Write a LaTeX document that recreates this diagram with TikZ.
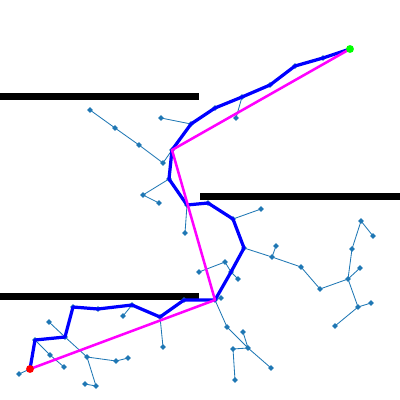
\documentclass[tikz,border=0pt]{standalone}
\usetikzlibrary{shapes.geometric}
\definecolor{treeblue}{HTML}{1F77B4}
\definecolor{shortpink}{HTML}{FF00FF}
\definecolor{goalgreen}{HTML}{00FF00}
\definecolor{startred}{HTML}{FF0000}
\begin{document}
\begin{tikzpicture}[x=0.025cm,y=-0.025cm,
  vtx/.style={diamond,fill=treeblue,inner sep=0pt,minimum size=4.2pt},
  edge/.style={treeblue,line width=0.6pt},
  route/.style={blue,line width=2.3pt,line join=round},
  short/.style={shortpink,line width=1.8pt,line join=round},
  endpt/.style={circle,inner sep=0pt,minimum size=5.6pt},
  wall/.style={fill=black}]
\useasboundingbox (0,0) rectangle (400,400);

\fill[wall] (0,93) rectangle (199,100);
\fill[wall] (200,193) rectangle (400,200);
\fill[wall] (0,293) rectangle (199,300);

% nodes of the found route
\coordinate (p0) at (30,369);
\node[vtx] (p1) at (35,340) {};
\node[vtx] (p2) at (65,337) {};
\node[vtx] (p3) at (73,307) {};
\node[vtx] (p4) at (98,309) {};
\node[vtx] (p5) at (132,305) {};
\node[vtx] (p6) at (160,317) {};
\node[vtx] (p7) at (184,300) {};
\node[vtx] (p8) at (215,300) {};
\node[vtx] (p9) at (231,272) {};
\node[vtx] (p10) at (244,248) {};
\node[vtx] (p11) at (233,219) {};
\node[vtx] (p12) at (208,203) {};
\node[vtx] (p13) at (187,205) {};
\node[vtx] (p14) at (169,179) {};
\node[vtx] (p15) at (172,150) {};
\node[vtx] (p16) at (191,124) {};
\node[vtx] (p17) at (215,108) {};
\node[vtx] (p18) at (242,97) {};
\node[vtx] (p19) at (270,85) {};
\node[vtx] (p20) at (295,66) {};
\node[vtx] (p21) at (323,58) {};
\coordinate (p22) at (350,49);

% other tree nodes
\node[vtx] (a1) at (90,110) {};
\node[vtx] (a2) at (115,128) {};
\node[vtx] (a3) at (139,145) {};
\node[vtx] (a4) at (163,163) {};
\node[vtx] (b1) at (161,118) {};
\node[vtx] (c1) at (143,195) {};
\node[vtx] (c2) at (159,203) {};
\node[vtx] (d1) at (185,233) {};
\node[vtx] (e1) at (236,118) {};
\node[vtx] (f1) at (261,209) {};
\node[vtx] (g1) at (272,257) {};
\node[vtx] (g2) at (276,246) {};
\node[vtx] (g3) at (301,267) {};
\node[vtx] (g4) at (320,289) {};
\node[vtx] (g5) at (348,279) {};
\node[vtx] (g6) at (360,268) {};
\node[vtx] (g7) at (352,249) {};
\node[vtx] (g8) at (361,221) {};
\node[vtx] (g9) at (373,236) {};
\node[vtx] (g10) at (358,307) {};
\node[vtx] (g11) at (371,303) {};
\node[vtx] (g12) at (335,326) {};
\node[vtx] (h1) at (225,262) {};
\node[vtx] (h2) at (199,272) {};
\node[vtx] (h3) at (238,279) {};
\node[vtx] (k1) at (221,298) {};
\node[vtx] (m1) at (227,327) {};
\node[vtx] (m2) at (248,348) {};
\node[vtx] (m3) at (243,332) {};
\node[vtx] (m4) at (233,349) {};
\node[vtx] (m5) at (235,380) {};
\node[vtx] (m6) at (271,368) {};
\node[vtx] (q1) at (19,374) {};
\node[vtx] (r1) at (50,355) {};
\node[vtx] (r2) at (64,367) {};
\node[vtx] (u1) at (49,322) {};
\node[vtx] (u2) at (87,357) {};
\node[vtx] (u3) at (116,361) {};
\node[vtx] (u4) at (128,358) {};
\node[vtx] (u5) at (96,386) {};
\node[vtx] (u6) at (85,384) {};
\node[vtx] (v1) at (123,316) {};
\node[vtx] (w1) at (163,347) {};

% tree edges
\draw[edge] (a1.center) -- (a2.center) -- (a3.center) -- (a4.center) -- (p15.center);
\draw[edge] (b1.center) -- (p16.center);
\draw[edge] (c2.center) -- (c1.center) -- (p14.center);
\draw[edge] (d1.center) -- (p13.center);
\draw[edge] (e1.center) -- (p18.center);
\draw[edge] (f1.center) -- (p11.center);
\draw[edge] (p10.center) -- (g1.center) -- (g3.center) -- (g4.center) -- (g5.center);
\draw[edge] (g2.center) -- (g1.center);
\draw[edge] (g6.center) -- (g5.center) -- (g7.center) -- (g8.center) -- (g9.center);
\draw[edge] (g5.center) -- (g10.center) -- (g11.center);
\draw[edge] (g10.center) -- (g12.center);
\draw[edge] (h2.center) -- (h1.center) -- (p9.center) -- (h3.center);
\draw[edge] (k1.center) -- (p8.center) -- (m1.center) -- (m2.center) -- (m3.center);
\draw[edge] (m2.center) -- (m4.center) -- (m5.center);
\draw[edge] (m2.center) -- (m6.center);
\draw[edge] (q1.center) -- (p0);
\draw[edge] (p1.center) -- (r1.center) -- (r2.center);
\draw[edge] (u1.center) -- (p2.center) -- (u2.center) -- (u3.center) -- (u4.center);
\draw[edge] (u2.center) -- (u5.center) -- (u6.center);
\draw[edge] (v1.center) -- (p5.center);
\draw[edge] (w1.center) -- (p6.center);

% route through the tree
\draw[route] (p0) -- (p1.center) -- (p2.center) -- (p3.center) -- (p4.center)
  -- (p5.center) -- (p6.center) -- (p7.center) -- (p8.center) -- (p9.center)
  -- (p10.center) -- (p11.center) -- (p12.center) -- (p13.center) -- (p14.center)
  -- (p15.center) -- (p16.center) -- (p17.center) -- (p18.center) -- (p19.center)
  -- (p20.center) -- (p21.center) -- (p22);

% shortened route
\draw[short] (p0) -- (p8.center) -- (p15.center) -- (p22);

\node[endpt,fill=startred] (start) at (p0) {};
\node[endpt,fill=goalgreen] (goal) at (p22) {};
\end{tikzpicture}
\end{document}
